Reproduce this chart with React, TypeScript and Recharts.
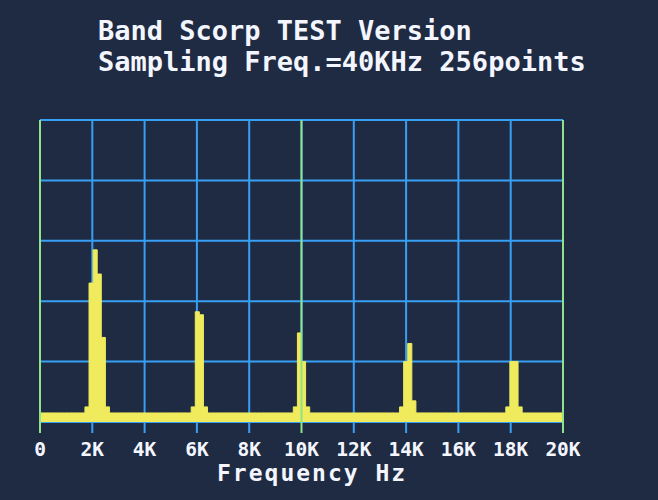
import React from "react";
import {
  AreaChart,
  Area,
  XAxis,
  YAxis,
  CartesianGrid,
  ReferenceLine
} from "recharts";

// 256 point FFT at 40 kHz -> 128 bins from 0 to 20 kHz
const BIN_HZ = 20000 / 128;

// bin levels (0-100 scale, 5 grid rows)
const levels = [
  3, 3, 3, 3, 3, 3, 3, 3, 3, 3, 3, 5, 46, 57, 49, 28,
  5, 3, 3, 3, 3, 3, 3, 3, 3, 3, 3, 3, 3, 3, 3, 3,
  3, 3, 3, 3, 3, 5, 36.5, 35.5, 5, 3, 3, 3, 3, 3, 3, 3,
  3, 3, 3, 3, 3, 3, 3, 3, 3, 3, 3, 3, 3, 3, 5, 29.5,
  20, 5, 3, 3, 3, 3, 3, 3, 3, 3, 3, 3, 3, 3, 3, 3,
  3, 3, 3, 3, 3, 3, 3, 3, 5, 20, 26, 7, 3, 3, 3, 3,
  3, 3, 3, 3, 3, 3, 3, 3, 3, 3, 3, 3, 3, 3, 3, 3,
  3, 3, 5, 20, 20, 5, 3, 3, 3, 3, 3, 3, 3, 3, 3, 3
];

const freqTicks = [0, 2000, 4000, 6000, 8000, 10000, 12000, 14000, 16000, 18000, 20000];
const greenTicks = [0, 10000, 20000];
const levelTicks = [0, 20, 40, 60, 80, 100];

const titleLines = ["Band Scorp TEST Version", "Sampling Freq.=40KHz 256points"];
const axisTitle = "Frequency Hz";

const BG = "#1f2b42";
const BLUE = "#379ff4";
const GREEN = "#8fe28a";
const YELLOW = "#efeb5c";
const FONT = "'DejaVu Sans Mono', monospace";

const data = levels
  .map((v, i) => ({ hz: i * BIN_HZ, level: v }))
  .concat([{ hz: 20000, level: levels[levels.length - 1] }]);

const FreqTick = (props: any) => {
  const { x, y, payload } = props;
  const v = payload.value;
  const color = greenTicks.includes(v) ? GREEN : BLUE;
  return (
    <g>
      <line x1={x} x2={x} y1={y} y2={y + 11} stroke={color} strokeWidth={2} />
      <text
        x={x}
        y={y + 34}
        textAnchor="middle"
        fill="#f4f6ff"
        fontFamily={FONT}
        fontWeight="bold"
        fontSize={19.5}
      >
        {v === 0 ? "0" : `${v / 1000}K`}
      </text>
    </g>
  );
};

export default function App() {
  return (
    <div
      style={{
        position: "fixed",
        left: 0,
        top: 0,
        width: 658,
        height: 500,
        background: BG
      }}
    >
      <AreaChart
        width={658}
        height={500}
        data={data}
        margin={{ top: 120, right: 95, bottom: 48, left: 40 }}
      >
        <CartesianGrid stroke={BLUE} strokeWidth={2} />
        <XAxis
          dataKey="hz"
          type="number"
          domain={[0, 20000]}
          ticks={freqTicks}
          interval={0}
          axisLine={false}
          tickLine={false}
          tickSize={0}
          tickMargin={0}
          height={30}
          tick={<FreqTick />}
        />
        <YAxis hide domain={[0, 100]} ticks={levelTicks} />
        {greenTicks.map((v) => (
          <ReferenceLine key={v} x={v} stroke={GREEN} strokeWidth={2} />
        ))}
        <Area
          type="stepAfter"
          dataKey="level"
          stroke={YELLOW}
          strokeWidth={1}
          fill={YELLOW}
          fillOpacity={1}
          dot={false}
          activeDot={false}
          isAnimationActive={false}
        />
      </AreaChart>
      <svg
        width={658}
        height={500}
        style={{ position: "absolute", left: 0, top: 0, pointerEvents: "none" }}
      >
        {titleLines.map((t, i) => (
          <text
            key={t}
            x={98}
            y={40 + i * 31}
            fill="#f4f6ff"
            fontFamily={FONT}
            fontWeight="bold"
            fontSize={27}
          >
            {t}
          </text>
        ))}
        <text
          x={217}
          y={481}
          fill="#f4f6ff"
          fontFamily={FONT}
          fontWeight="bold"
          fontSize={23}
          letterSpacing={2}
        >
          {axisTitle}
        </text>
      </svg>
    </div>
  );
}
